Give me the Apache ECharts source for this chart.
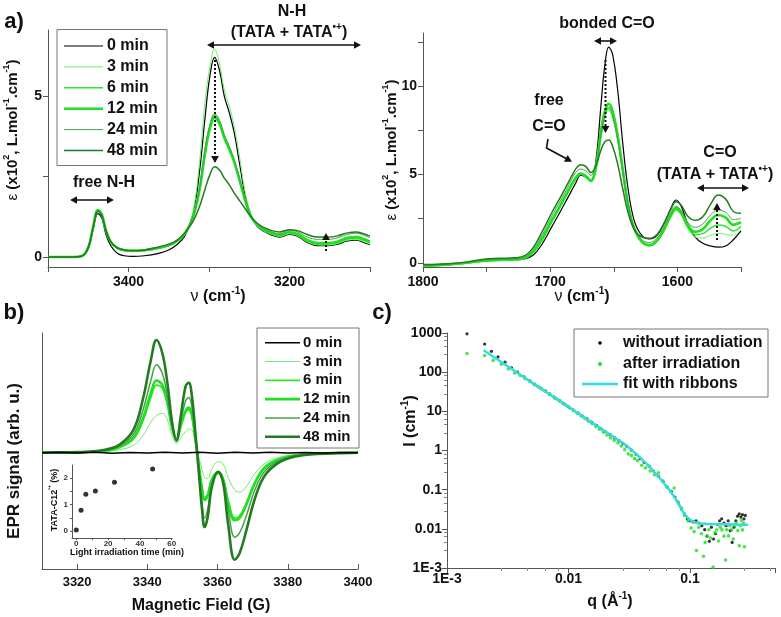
<!DOCTYPE html>
<html><head><meta charset="utf-8">
<script src="https://cdn.jsdelivr.net/npm/echarts@6/dist/echarts.min.js"></script>
<style>html,body{margin:0;padding:0;background:#fff}#c{width:781px;height:617px}</style>
</head><body><div id="c"></div>
<script>
const FONT = '"Liberation Sans", Arial, sans-serif';

// ---------- legend names ----------
const TIMES = ['0 min', '3 min', '6 min', '12 min', '24 min', '48 min'];

// ---------- a) N-H region ----------
const NH_X = [3500,3470,3458,3450,3444,3438,3433,3428,3422,3414,3405,3395,3380,3365,3350,3340,3330,3320,3312,3305,3299,3293,3287,3281,3275,3269,3262,3255,3248,3240,3232,3222,3212,3200,3190,3178,3165,3152,3140,3128,3117,3108,3100];
const NH_0  = [0,0,0.03,0.25,0.85,1.35,1.2,0.7,0.35,0.12,0.04,0.02,0.04,0.1,0.22,0.38,0.65,1.3,2.6,4.3,5.6,6.2,5.8,5.0,4.5,3.9,2.9,1.9,1.3,0.95,0.8,0.68,0.62,0.7,0.65,0.45,0.35,0.35,0.4,0.5,0.52,0.45,0.38];
const NH_3  = [0,0,0.03,0.28,0.9,1.42,1.27,0.8,0.45,0.26,0.2,0.18,0.2,0.25,0.34,0.46,0.7,1.4,2.9,4.8,5.9,6.45,6.0,5.2,4.7,4.1,3.1,2.0,1.35,1.0,0.82,0.7,0.64,0.72,0.66,0.47,0.38,0.37,0.42,0.52,0.54,0.48,0.4];
const NH_6  = [0,0,0.03,0.3,0.92,1.45,1.3,0.82,0.46,0.27,0.2,0.18,0.2,0.26,0.36,0.48,0.72,1.25,2.1,3.3,4.05,4.4,4.2,3.75,3.4,3.0,2.4,1.75,1.25,0.98,0.82,0.72,0.66,0.75,0.7,0.5,0.4,0.4,0.45,0.56,0.58,0.52,0.45];
const NH_12 = [0,0,0.03,0.3,0.93,1.46,1.31,0.83,0.47,0.28,0.21,0.19,0.21,0.27,0.37,0.49,0.73,1.24,2.05,3.2,3.98,4.33,4.14,3.7,3.36,2.97,2.38,1.75,1.26,0.99,0.84,0.74,0.68,0.77,0.72,0.53,0.43,0.43,0.48,0.6,0.62,0.56,0.48];
const NH_24 = [0,0,0.03,0.3,0.92,1.45,1.3,0.84,0.48,0.3,0.23,0.2,0.22,0.28,0.38,0.5,0.74,1.25,2.1,3.35,4.1,4.45,4.25,3.8,3.45,3.05,2.45,1.8,1.3,1.02,0.88,0.78,0.72,0.82,0.78,0.62,0.55,0.55,0.6,0.7,0.74,0.68,0.6];
const NH_48 = [0,0,0.03,0.3,0.9,1.42,1.28,0.82,0.47,0.29,0.22,0.2,0.22,0.3,0.4,0.52,0.75,1.1,1.55,2.1,2.55,2.8,2.7,2.45,2.25,2.0,1.75,1.5,1.25,1.05,0.92,0.82,0.78,0.85,0.82,0.7,0.62,0.62,0.66,0.75,0.78,0.72,0.65];
const NH_TICKS = [3400, 3200];
const NH_Y_TICKS = [0, 5];

// ---------- a) C=O region ----------
const CO_X = [1800,1780,1765,1752,1740,1728,1720,1713,1706,1699,1692,1686,1680,1676,1672,1668,1664,1660,1657,1654,1651,1647,1643,1639,1634,1628,1622,1616,1610,1605,1601,1597,1592,1586,1580,1574,1568,1562,1556,1550];
const CO_0  = [-0.15,-0.08,0.0,0.12,0.15,0.17,0.22,0.45,1.1,2.0,2.9,3.7,4.5,4.95,4.85,4.6,5.8,9.0,11.2,12.2,11.8,9.8,6.8,4.3,2.4,1.55,1.35,1.55,2.3,3.1,3.55,3.2,2.2,1.45,1.1,0.95,0.88,0.95,1.3,1.8];
const CO_3  = [-0.2,-0.12,-0.02,0.1,0.14,0.17,0.25,0.6,1.3,2.25,3.15,3.95,4.7,5.0,4.85,4.6,5.2,7.0,8.2,8.6,8.2,6.9,5.1,3.3,1.9,1.15,0.95,1.2,1.9,2.6,2.95,2.7,1.95,1.45,1.4,1.55,1.66,1.6,1.55,1.9];
const CO_6  = [-0.2,-0.12,-0.02,0.1,0.14,0.17,0.25,0.62,1.35,2.3,3.2,4.0,4.75,5.02,4.87,4.62,5.3,7.3,8.4,8.8,8.4,7.05,5.2,3.35,1.92,1.17,0.97,1.22,1.92,2.65,3.0,2.75,2.05,1.6,1.65,1.95,2.13,2.05,1.8,2.05];
const CO_12 = [-0.18,-0.1,0.0,0.12,0.16,0.19,0.27,0.65,1.4,2.35,3.25,4.05,4.8,5.05,4.9,4.65,5.5,7.5,8.6,9.0,8.6,7.2,5.3,3.4,1.95,1.2,1.0,1.25,1.95,2.7,3.1,2.85,2.15,1.75,1.9,2.4,2.7,2.55,2.15,2.3];
const CO_24 = [-0.15,-0.08,0.02,0.15,0.2,0.23,0.32,0.8,1.6,2.6,3.5,4.3,5.1,5.3,5.2,4.95,5.6,7.3,8.4,8.7,8.3,7.0,5.2,3.4,2.0,1.3,1.15,1.4,2.1,2.85,3.2,2.95,2.3,2.0,2.2,2.7,2.98,2.85,2.45,2.5];
const CO_48 = [-0.1,-0.05,0.05,0.2,0.25,0.28,0.4,0.9,1.8,2.8,3.7,4.5,5.3,5.55,5.45,5.1,5.5,6.4,6.85,6.95,6.6,5.6,4.2,2.9,1.9,1.45,1.38,1.6,2.3,3.05,3.45,3.25,2.65,2.4,2.6,3.3,3.83,3.6,2.9,2.8];
const CO_TICKS = [1600, 1700, 1800];
const CO_Y_TICKS = [0, 5, 10];

// ---------- b) EPR ----------
const EPR_X = [3310,3320,3327.5,3332,3336,3338.7,3341,3342.6,3344.3,3345.7,3347.1,3348.3,3349.5,3350.9,3351.8,3352.7,3353.7,3354.6,3355.6,3356.3,3357.2,3358.4,3360.2,3361.6,3363,3364.9,3366.3,3368.2,3370.5,3373.3,3377.1,3381.8,3388.3,3400];
const EPR_3  = [0,0.002,0.008,0.025,0.065,0.15,0.27,0.33,0.35,0.29,0.15,0.08,0.13,0.19,0.21,0.2,0.1,-0.03,-0.15,-0.22,-0.23,-0.14,-0.08,-0.1,-0.22,-0.33,-0.35,-0.3,-0.19,-0.1,-0.045,-0.018,-0.006,0];
const EPR_6  = [0,0.003,0.015,0.045,0.12,0.28,0.49,0.6,0.57,0.43,0.21,0.12,0.23,0.36,0.38,0.32,0.11,-0.1,-0.31,-0.4,-0.37,-0.23,-0.17,-0.23,-0.42,-0.58,-0.56,-0.45,-0.27,-0.13,-0.06,-0.023,-0.007,0];
const EPR_12 = [0,0.003,0.017,0.05,0.13,0.3,0.53,0.64,0.6,0.45,0.22,0.12,0.24,0.37,0.4,0.34,0.12,-0.1,-0.33,-0.42,-0.38,-0.24,-0.18,-0.24,-0.44,-0.6,-0.58,-0.46,-0.28,-0.14,-0.065,-0.025,-0.008,0];
const EPR_24 = [0,0.004,0.02,0.058,0.16,0.37,0.64,0.78,0.7,0.5,0.22,0.1,0.27,0.46,0.49,0.4,0.14,-0.13,-0.45,-0.58,-0.5,-0.28,-0.17,-0.25,-0.5,-0.75,-0.71,-0.56,-0.34,-0.17,-0.078,-0.03,-0.01,0];
const EPR_48 = [0,0.005,0.024,0.07,0.2,0.47,0.82,1.0,0.88,0.62,0.26,0.11,0.32,0.59,0.62,0.5,0.17,-0.15,-0.51,-0.66,-0.57,-0.3,-0.17,-0.27,-0.63,-0.95,-0.89,-0.69,-0.42,-0.21,-0.095,-0.036,-0.012,0];
const EPR0_X = [3310,3315,3320,3325,3330,3335,3340,3345,3350,3355,3360,3365,3370,3375,3380,3385,3390,3395,3400];
const EPR_0  = [0,0.004,-0.003,0.003,-0.004,0.002,-0.003,0.004,-0.002,0.003,-0.004,0.003,-0.002,0.004,-0.003,0.002,-0.003,0.002,0];
const EPR_TICKS = [3320, 3340, 3360, 3380, 3400];

// ---------- b) inset ----------
const INSET_T = [0, 3, 6, 12, 24, 48];
const INSET_V = [0.04, 0.78, 1.38, 1.5, 1.83, 2.33];

// ---------- c) SAXS ----------
const DRY_Q = [0.00146,0.00204,0.00232,0.00263,0.003,0.0034,0.0038,0.0043,0.0048,0.0053,0.0058,0.0064,0.007,0.0077,0.0084,0.0092,0.01,0.011,0.012,0.013,0.0142,0.0155,0.017,0.0185,0.02,0.022,0.024,0.026,0.028,0.03,0.033,0.036,0.039,0.042,0.046,0.05,0.055,0.06,0.065,0.07,0.075,0.08,0.085,0.09,0.095,0.1,0.106,0.112,0.118,0.125,0.132,0.138,0.144,0.15,0.156,0.162,0.168,0.175,0.182,0.19,0.198,0.206,0.214,0.222,0.23,0.238,0.246,0.254,0.262,0.27,0.278,0.285];
const DRY_I = [950,520,340,245,180,128,100,76,60,48,40,33,27,22,18.5,15.5,13,10.8,9,7.6,6.4,5.3,4.4,3.6,3.05,2.55,2.1,1.78,1.52,1.3,1.02,0.8,0.62,0.5,0.4,0.3,0.22,0.16,0.115,0.09,0.065,0.046,0.032,0.024,0.018,0.016,0.015,0.016,0.014,0.012,0.0095,0.0065,0.0048,0.011,0.0055,0.0075,0.013,0.016,0.018,0.014,0.012,0.016,0.009,0.0045,0.011,0.016,0.021,0.024,0.02,0.023,0.018,0.022];
const IRR_Q = [0.00146,0.00204,0.0024,0.0028,0.0032,0.0036,0.004,0.0044,0.0048,0.0052,0.0056,0.006,0.0065,0.007,0.0075,0.008,0.0085,0.009,0.0096,0.0103,0.011,0.0118,0.0127,0.0136,0.0146,0.0157,0.0168,0.018,0.0193,0.0207,0.0222,0.0238,0.0255,0.0272,0.029,0.031,0.033,0.035,0.037,0.04,0.043,0.047,0.051,0.055,0.059,0.064,0.069,0.074,0.079,0.085,0.09,0.096,0.102,0.108,0.113,0.118,0.124,0.129,0.133,0.138,0.143,0.148,0.155,0.16,0.166,0.171,0.177,0.183,0.19,0.196,0.2,0.207,0.213,0.22,0.227,0.233,0.24,0.247,0.254,0.26,0.265,0.27,0.275,0.28];
const IRR_I = [300,265,200,160,120,95,82,68,58,50,43,38,33,28,24,21,18.5,16,14,12,10.4,9,7.7,6.6,5.6,4.8,4.1,3.5,2.95,2.5,2.1,1.8,1.55,1.3,1.05,0.82,0.75,0.62,0.55,0.42,0.36,0.3,0.24,0.27,0.17,0.12,0.09,0.11,0.05,0.034,0.022,0.016,0.0105,0.0085,0.0028,0.011,0.0075,0.002,0.0045,0.0065,0.0095,0.0058,0.00105,0.008,0.0095,0.0049,0.011,0.0094,0.0065,0.0016,0.0095,0.0066,0.012,0.0094,0.0055,0.012,0.0138,0.009,0.0037,0.012,0.0166,0.0094,0.014,0.0035];
const FIT_Q = [0.002,0.003,0.005,0.01,0.02,0.03,0.04,0.05,0.06,0.07,0.08,0.09,0.1,0.11,0.13,0.16,0.2,0.25,0.3];
const FIT_I = [363,157,54,13,3.1,1.33,0.6,0.3,0.155,0.085,0.045,0.024,0.017,0.0145,0.0135,0.0132,0.013,0.0128,0.0127];
const LOG_LABELS = {'-3':'1E-3','-2':'0.01','-1':'0.1','0':'1','1':'10','2':'100','3':'1000'};

// ---------- styles ----------
const COLORS = ['#000000', '#6cf06c', '#2fe52f', '#1de21d', '#4aa04a', '#237a23'];
const W_A = [1.2, 1, 1.5, 2.6, 1, 1.5];
const W_B = [1.5, 1, 1.8, 2.6, 1.5, 2.6];

const zip = (xs, ys) => xs.map((x, i) => [x, ys[i]]);
const AX = '#555';
const plain = v => String(v);
const lbl = (size, extra) => Object.assign({color: '#111', fontWeight: 'bold', fontFamily: FONT, fontSize: size, formatter: plain}, extra || {});

function valAxis(grid, o) {
  return Object.assign({
    type: 'value', gridIndex: grid, scale: true,
    axisLine: {show: true, onZero: false, lineStyle: {color: AX, width: 1}},
    axisTick: {show: true, lineStyle: {color: AX}, length: 5},
    splitLine: {show: false},
  }, o);
}

const xAxes = [
  valAxis(0, {min: 3100, max: 3500, inverse: true,
    axisLabel: Object.assign(lbl(14, {margin: 8}), {customValues: NH_TICKS}),
    axisTick: {show: true, customValues: [3100, 3200, 3300, 3400, 3500], lineStyle: {color: AX}, length: 5}}),
  valAxis(1, {min: 1550, max: 1800, inverse: true,
    axisLabel: Object.assign(lbl(14, {margin: 8}), {customValues: CO_TICKS}),
    axisTick: {show: true, customValues: [1550, 1600, 1650, 1700, 1750, 1800], lineStyle: {color: AX}, length: 5}}),
  valAxis(2, {min: 3310, max: 3400,
    axisLabel: Object.assign(lbl(13, {margin: 7}), {customValues: EPR_TICKS}),
    axisTick: {show: true, inside: true, customValues: EPR_TICKS, lineStyle: {color: AX}, length: 5}}),
  valAxis(3, {min: -2.7, max: 60.2,
    axisLabel: Object.assign(lbl(8, {margin: 2, color: '#333'}), {customValues: [0, 20, 40, 60]}),
    axisTick: {show: true, customValues: [0, 10, 20, 30, 40, 50, 60], lineStyle: {color: AX}, length: 2}}),
  {type: 'log', gridIndex: 4, min: 0.001, max: 0.5, logBase: 10,
    axisLine: {show: true, onZero: false, lineStyle: {color: AX}},
    axisTick: {show: true, lineStyle: {color: AX}, length: 5},
    minorTick: {show: true, splitNumber: 5, length: 3, lineStyle: {color: '#888'}},
    splitLine: {show: false},
    axisLabel: lbl(14, {margin: 4, formatter: v => {
      const l = Math.log10(v), r = Math.round(l);
      return Math.abs(l - r) < 1e-6 && r <= -1 ? LOG_LABELS[String(r)] : '';
    }})}
];
const yAxes = [
  valAxis(0, {min: -0.31, max: 7.05,
    axisLabel: Object.assign(lbl(14, {margin: 6}), {customValues: NH_Y_TICKS}),
    axisTick: {show: true, customValues: [0, 2.5, 5], lineStyle: {color: AX}, length: 5}}),
  valAxis(1, {min: -0.24, max: 13.0,
    axisLabel: Object.assign(lbl(14, {margin: 6}), {customValues: CO_Y_TICKS}),
    axisTick: {show: true, customValues: [0, 2.5, 5, 7.5, 10, 12.5], lineStyle: {color: AX}, length: 5}}),
  valAxis(2, {min: -1.032, max: 1.062, axisLabel: {show: false}, axisTick: {show: false}}),
  valAxis(3, {min: -0.26, max: 2.48,
    axisLabel: Object.assign(lbl(8, {margin: 4, color: '#333'}), {customValues: [0, 1, 2]}),
    axisTick: {show: true, customValues: [0, 0.5, 1, 1.5, 2], lineStyle: {color: AX}, length: 2}}),
  {type: 'log', gridIndex: 4, min: 0.001, max: 1000, logBase: 10,
    axisLine: {show: true, onZero: false, lineStyle: {color: AX}},
    axisTick: {show: true, lineStyle: {color: AX}, length: 5},
    minorTick: {show: true, splitNumber: 5, length: 3, lineStyle: {color: '#888'}},
    splitLine: {show: false},
    axisLabel: lbl(14, {margin: 5, formatter: v => {
      const l = Math.log10(v), r = Math.round(l);
      return Math.abs(l - r) < 1e-6 ? (LOG_LABELS[String(r)] || '') : '';
    }})}
];

const NH = [NH_0, NH_3, NH_6, NH_12, NH_24, NH_48];
const CO = [CO_0, CO_3, CO_6, CO_12, CO_24, CO_48];
const EPR = [null, EPR_3, EPR_6, EPR_12, EPR_24, EPR_48];

const series = [];
TIMES.forEach((name, i) => {
  series.push({type: 'line', name, xAxisIndex: 0, yAxisIndex: 0, data: zip(NH_X, NH[i]), smooth: 0.4,
    showSymbol: false, lineStyle: {color: COLORS[i], width: W_A[i]}, itemStyle: {color: COLORS[i]}, z: 2});
  series.push({type: 'line', name, xAxisIndex: 1, yAxisIndex: 1, data: zip(CO_X, CO[i]), smooth: 0.4,
    showSymbol: false, lineStyle: {color: COLORS[i], width: W_A[i]}, itemStyle: {color: COLORS[i]}, z: 2});
});
TIMES.forEach((name, i) => {
  const d = i === 0 ? zip(EPR0_X, EPR_0) : zip(EPR_X, EPR[i]);
  series.push({type: 'line', name, xAxisIndex: 2, yAxisIndex: 2, data: d, smooth: i === 0 ? false : 0.4,
    showSymbol: false, lineStyle: {color: COLORS[i], width: W_B[i]}, itemStyle: {color: COLORS[i]}, z: i === 0 ? 3 : 2});
});
series.push({type: 'scatter', name: 'TATA-C12', xAxisIndex: 3, yAxisIndex: 3, data: zip(INSET_T, INSET_V),
  symbolSize: 5, itemStyle: {color: '#000'}});
series.push({type: 'scatter', name: 'after irradiation', xAxisIndex: 4, yAxisIndex: 4, data: zip(IRR_Q, IRR_I),
  symbolSize: 3.6, itemStyle: {color: '#22dd22'}, z: 2});
series.push({type: 'scatter', name: 'without irradiation', xAxisIndex: 4, yAxisIndex: 4, data: zip(DRY_Q, DRY_I),
  symbolSize: 3.2, itemStyle: {color: '#000'}, z: 1});
series.push({type: 'line', name: 'fit with ribbons', xAxisIndex: 4, yAxisIndex: 4, data: zip(FIT_Q, FIT_I), smooth: 0.3,
  showSymbol: false, lineStyle: {color: '#33dddd', width: 2.5}, itemStyle: {color: '#33dddd'}, z: 3});

// ---------- graphic annotations ----------
const G = [];
const richBase = (size) => ({
  n: {fontSize: size, fontWeight: 'bold', fontFamily: FONT, fill: '#111', color: '#111', lineHeight: size + 6},
  g: {fontSize: size, fontWeight: 'normal', fontFamily: FONT, fill: '#111', color: '#111', lineHeight: size + 6},
  s: {fontSize: Math.round(size * 0.6), fontWeight: 'bold', fontFamily: FONT, fill: '#111', color: '#111', verticalAlign: 'top', lineHeight: Math.round(size * 0.65)}
});
function T(x, y, text, size, rot, align) {
  G.push({type: 'text', x, y, rotation: rot || 0, z: 100, style: {
    text, rich: richBase(size), font: `bold ${size}px ${FONT}`, fill: '#111',
    align: align || 'center', verticalAlign: 'middle', textAlign: align || 'center', textVerticalAlign: 'middle'}});
}
function head(x, y, ang, size) {
  const s = size || 7, w = s * 0.55;
  const bx = x - Math.cos(ang) * s, by = y - Math.sin(ang) * s;
  const px = -Math.sin(ang) * w, py = Math.cos(ang) * w;
  G.push({type: 'polygon', z: 100, shape: {points: [[x, y], [bx + px, by + py], [bx - px, by - py]]}, style: {fill: '#111'}});
}
function line(pts, dash, w) {
  G.push({type: 'polyline', z: 100, shape: {points: pts}, style: {stroke: '#111', lineWidth: w || 1.5, lineDash: dash || null, fill: null}});
}
function dblArrow(x1, x2, y) { line([[x1 + 5, y], [x2 - 5, y]], null, 1.6); head(x1, y, Math.PI, 7); head(x2, y, 0, 7); }
function dotArrow(x, y1, y2) { const dir = y2 > y1 ? 1 : -1; line([[x, y1], [x, y2 - dir * 5]], [2, 2], 2); head(x, y2, dir > 0 ? Math.PI / 2 : -Math.PI / 2, 7); }

// panel labels
T(14, 22, '{n|a)}', 22); T(14, 313, '{n|b)}', 22); T(382, 313, '{n|c)}', 22);
// a) left annotations
T(292, 12, '{n|N-H}', 16);
T(289, 33, '{n|(TATA + TATA}{s|•+}{n|)}', 16);
dblArrow(207, 361, 45);
T(104, 183, '{n|free N-H}', 16);
dblArrow(70, 114, 200);
dotArrow(215, 60, 163);
dotArrow(326, 251, 233);
// a) right annotations
T(607, 24, '{n|bonded C=O}', 16);
dblArrow(594, 617, 41);
dotArrow(605.5, 60, 133);
T(549, 101, '{n|free}', 16);
T(549, 127, '{n|C=O}', 16);
line([[548, 139], [546.5, 148], [567, 159]], null, 1.6); head(572, 161.7, Math.atan2(2.7, 5), 7);
T(720, 153, '{n|C=O}', 16);
T(715, 175, '{n|(TATA + TATA}{s|•+}{n|)}', 16);
dblArrow(697, 749, 188);
dotArrow(717, 240, 203);
// axis names
T(13, 130, '{g|ε }{n|(x10}{s|2}{n|, L.mol}{s|-1}{n|.cm}{s|-1}{n|)}', 15, Math.PI / 2);
T(392, 150, '{g|ε }{n|(x10}{s|2}{n|, L.mol}{s|-1}{n|.cm}{s|-1}{n|)}', 15, Math.PI / 2);
T(218, 297, '{g|ν }{n|(cm}{s|-1}{n|)}', 16);
T(582, 297, '{g|ν }{n|(cm}{s|-1}{n|)}', 16);
T(14, 461, '{n|EPR signal (arb. u.)}', 17, Math.PI / 2);
T(201, 606, '{n|Magnetic Field (G)}', 16);
T(55, 500, '{n|TATA-C12}{s|•+}{n| (%)}', 9, Math.PI / 2);
T(127, 553, '{n|Light irradiation time (min)}', 9);
T(411, 421, '{n|I (cm}{s|-1}{n|)}', 16, Math.PI / 2);
T(610, 602, '{n|q (Å}{s|-1}{n|)}', 16);

// legends
function legendBox(x, y, w, h) {
  G.push({type: 'rect', z: 90, shape: {x, y, width: w, height: h}, style: {fill: '#fff', stroke: '#777', lineWidth: 1}});
}
legendBox(57, 29.5, 110, 136);
TIMES.forEach((name, i) => {
  const y = 46 + i * 20.9;
  G.push({type: 'line', z: 100, shape: {x1: 64, y1: y, x2: 103, y2: y}, style: {stroke: COLORS[i], lineWidth: W_A[i]}});
  T(107, y, `{n|${name}}`, 16, 0, 'left');
});
legendBox(257, 328, 102, 120);
TIMES.forEach((name, i) => {
  const y = 342.7 + i * 18.8;
  G.push({type: 'line', z: 100, shape: {x1: 265, y1: y, x2: 300, y2: y}, style: {stroke: COLORS[i], lineWidth: W_B[i]}});
  T(303, y, `{n|${name}}`, 15, 0, 'left');
});
legendBox(574, 329, 194, 68);
G.push({type: 'circle', z: 100, shape: {cx: 600, cy: 343, r: 1.8}, style: {fill: '#000'}});
T(623, 343, '{n|without irradiation}', 16, 0, 'left');
G.push({type: 'circle', z: 100, shape: {cx: 600, cy: 364, r: 2}, style: {fill: '#22dd22'}});
T(623, 364, '{n|after irradiation}', 16, 0, 'left');
G.push({type: 'line', z: 100, shape: {x1: 582, y1: 384, x2: 618, y2: 384}, style: {stroke: '#33dddd', lineWidth: 2.5}});
T(623, 384, '{n|fit with ribbons}', 16, 0, 'left');

const option = {
  animation: false,
  backgroundColor: '#fff',
  textStyle: {fontFamily: FONT},
  grid: [
    {left: 48, top: 30, width: 322, height: 237},
    {left: 423, top: 33, width: 318, height: 234},
    {left: 42, top: 333, width: 316, height: 236},
    {left: 72, top: 465, width: 100, height: 73},
    {left: 447, top: 333, width: 328, height: 235}
  ],
  xAxis: xAxes,
  yAxis: yAxes,
  series,
  graphic: {elements: G}
};
const chart = echarts.init(document.getElementById('c'), null, {renderer: 'canvas'});
chart.setOption(option);
</script>
</body></html>
